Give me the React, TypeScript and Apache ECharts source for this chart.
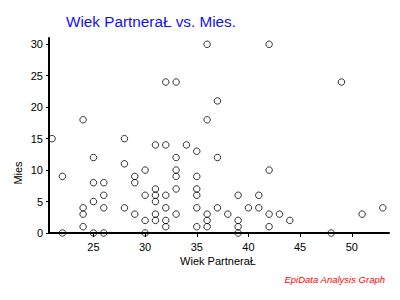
import React, { useEffect, useRef } from "react";
import * as echarts from "echarts";

const ages: number[] = [
  21,
  22, 22,
  24, 24, 24, 24,
  25, 25, 25, 25,
  26, 26, 26, 26,
  28, 28, 28,
  29, 29, 29,
  30, 30, 30, 30,
  31, 31, 31, 31, 31, 31,
  32, 32, 32, 32, 32, 32,
  33, 33, 33, 33, 33, 33,
  34,
  35, 35, 35, 35, 35, 35,
  36, 36, 36, 36, 36,
  37, 37, 37,
  38,
  39, 39, 39, 39,
  40,
  41, 41,
  42, 42, 42, 42,
  43,
  44,
  48,
  49,
  51,
  53,
];

const mies: number[] = [
  15,
  9, 0,
  18, 4, 3, 1,
  12, 8, 5, 0,
  8, 6, 4, 0,
  15, 11, 4,
  9, 8, 3,
  10, 6, 2, 0,
  14, 7, 6, 5, 3, 2,
  24, 14, 6, 4, 2, 1,
  24, 12, 10, 9, 7, 3,
  14,
  13, 9, 7, 6, 4, 1,
  30, 18, 3, 2, 1,
  21, 12, 4,
  3,
  6, 2, 1, 0,
  4,
  6, 4,
  30, 10, 3, 1,
  3,
  2,
  0,
  24,
  3,
  4,
];

const xTicks: number[] = [25, 30, 35, 40, 45, 50];
const yTicks: number[] = [0, 5, 10, 15, 20, 25, 30];

const titleText = "Wiek PartneraŁ vs. Mies.";
const xName = "Wiek PartneraŁ";
const yName = "Mies";
const footer = "EpiData Analysis Graph";

const FONT = "'Liberation Sans', Arial, sans-serif";

export default function App() {
  const ref = useRef<HTMLDivElement>(null);
  useEffect(() => {
    if (!ref.current) return;
    const chart = echarts.init(ref.current, null, { renderer: "svg" });
    const data = ages.map((a, i) => [a, mies[i]]);
    chart.setOption({
      animation: false,
      backgroundColor: "#fff",
      grid: { left: 49, right: 11, top: 38, bottom: 67 },
      xAxis: {
        type: "value",
        min: 20.7,
        max: 53.6,
        splitLine: { show: false },
        axisLine: { onZero: false, lineStyle: { color: "#000", width: 2 } },
        axisTick: { show: true, length: 4, customValues: xTicks, lineStyle: { color: "#000", width: 1 } },
        axisLabel: { customValues: xTicks, color: "#000", fontSize: 11, fontFamily: FONT, margin: 8 },
      },
      yAxis: {
        type: "value",
        min: 0,
        max: 31,
        splitLine: { show: false },
        axisLine: { show: true, onZero: false, lineStyle: { color: "#000", width: 2 } },
        axisTick: { show: true, length: 3, customValues: yTicks, lineStyle: { color: "#000", width: 1 } },
        axisLabel: { customValues: yTicks, color: "#000", fontSize: 11, fontFamily: FONT, margin: 6 },
      },
      series: [
        {
          type: "scatter",
          data,
          symbol: "circle",
          symbolSize: 6.5,
          itemStyle: { color: "rgba(0,0,0,0)", borderColor: "#000", borderWidth: 1 },
        },
      ],
      graphic: [
        {
          type: "text",
          x: 66,
          y: 21.5,
          style: { text: titleText, fill: "#1010ff", font: `15.3px ${FONT}`, textVerticalAlign: "middle" },
        },
        {
          type: "text",
          x: 218,
          y: 261,
          style: { text: xName, fill: "#000", font: `11px ${FONT}`, textAlign: "center", textVerticalAlign: "middle" },
        },
        {
          type: "text",
          x: 18,
          y: 173,
          rotation: Math.PI / 2,
          style: { text: yName, fill: "#000", font: `11px ${FONT}`, textAlign: "center", textVerticalAlign: "middle" },
        },
        {
          type: "text",
          x: 385,
          y: 279,
          style: { text: footer, fill: "#ff0000", font: `italic 9.5px ${FONT}`, textAlign: "right", textVerticalAlign: "middle" },
        },
      ],
    });
    return () => chart.dispose();
  }, []);
  return <div ref={ref} style={{ position: "absolute", left: 0, top: 0, width: 400, height: 300 }} />;
}
